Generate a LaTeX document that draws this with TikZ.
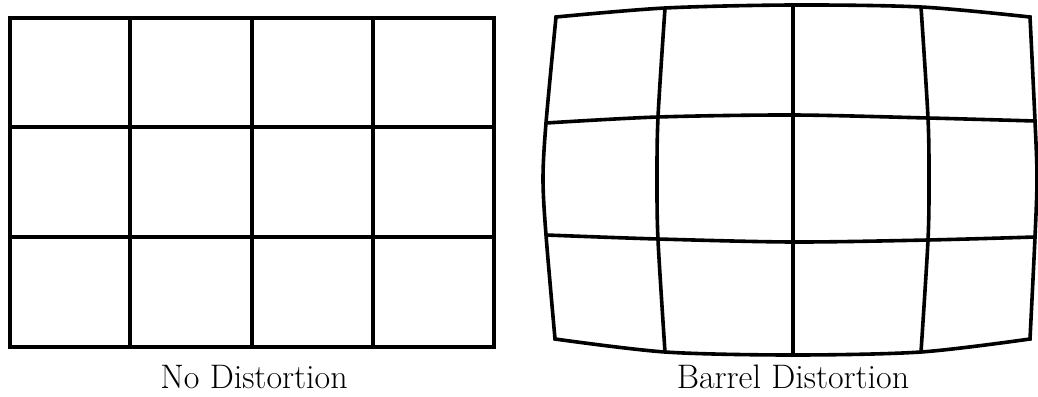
\documentclass[tikz,border=0pt]{standalone}
\usepackage{tikz}
\usetikzlibrary{positioning}

\begin{document}
\begin{tikzpicture}[x=1pt,y=-1pt,
  gridline/.style={line width=3.6pt,line join=miter},
  caption/.style={anchor=base,font=\fontsize{34}{40}\selectfont}]
\useasboundingbox (0,0) rectangle (1038,396);
% undistorted grid
\draw[gridline] (10,18) rectangle (494,347);
\foreach \x in {130,252,373} {
  \draw[gridline] (\x,18) -- (\x,347);
}
\foreach \y in {127,237} {
  \draw[gridline] (10,\y) -- (494,\y);
}
\node[caption] (plain) at (254,388) {No Distortion};
% barrel grid
\draw[gridline] plot[smooth] coordinates {(556,17) (665,8) (793,5) (921,7) (1030,17)}
  -- plot[smooth] coordinates {(1030,17) (1035,121) (1037,178) (1035,237) (1030,339)}
  -- plot[smooth] coordinates {(1030,339) (921,352) (793,355) (665,352) (555,339)}
  -- plot[smooth] coordinates {(555,339) (546,235) (543,179) (546,123) (556,17)}
  -- cycle;
\draw[gridline] plot[smooth] coordinates {(665,8) (658,117) (657,180) (658,240) (665,352)};
\draw[gridline] (793,5) -- (793,355);
\draw[gridline] plot[smooth] coordinates {(921,7) (928,118) (929,180) (928,240) (921,352)};
\draw[gridline] plot[smooth] coordinates {(546,123) (658,117) (793,115) (928,118) (1035,121)};
\draw[gridline] plot[smooth] coordinates {(546,235) (658,239) (793,242) (928,240) (1035,237)};
\node[caption] (barrel) at (793,388) {Barrel Distortion};
\end{tikzpicture}
\end{document}
